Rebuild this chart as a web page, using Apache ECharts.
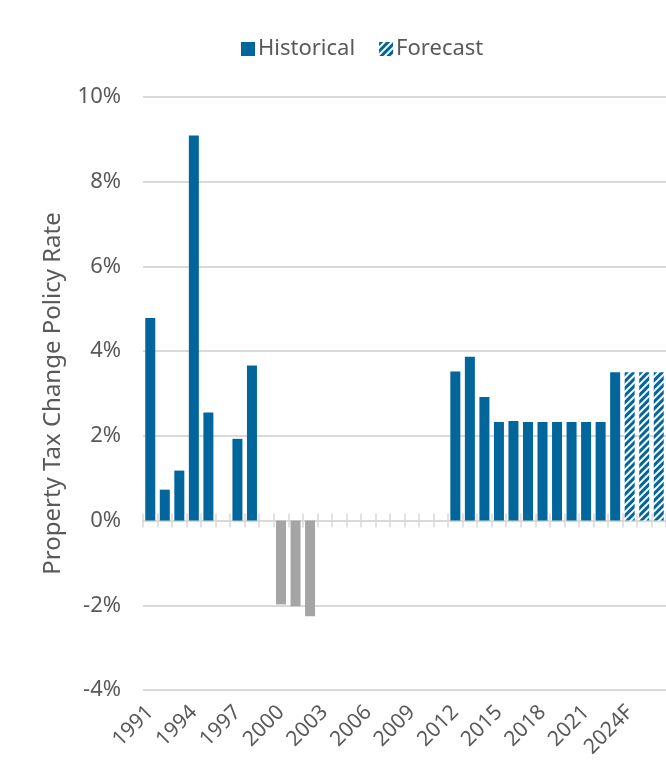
<!DOCTYPE html>
<html>
<head>
<meta charset="utf-8">
<script src="https://cdn.jsdelivr.net/npm/echarts@6/dist/echarts.min.js"></script>
<style>
html,body{margin:0;padding:0;background:#fff;}
#chart{width:666px;height:763px;}
</style>
</head>
<body>
<div id="chart"></div>
<script>
const categories = ['1991','1992','1993','1994','1995','1996','1997','1998','1999','2000','2001','2002','2003','2004','2005','2006','2007','2008','2009','2010','2011','2012','2013','2014','2015','2016','2017','2018','2019','2020','2021','2022','2023','2024F','2025F','2026F'];
const historical = [4.78,0.73,1.18,9.09,2.55,null,1.93,3.66,null,-1.98,-2.02,-2.26,null,null,null,null,null,null,null,null,null,3.52,3.87,2.92,2.33,2.35,2.33,2.33,2.33,2.33,2.33,2.33,3.50,null,null,null];
const forecast = [null,null,null,null,null,null,null,null,null,null,null,null,null,null,null,null,null,null,null,null,null,null,null,null,null,null,null,null,null,null,null,null,null,3.50,3.50,3.50];
const yTicks = {min:-4, max:10, interval:2};

const BLUE = '#00669b';
const GRAY = '#a5a5a5';
const TXT = '#595959';
const FONT = 'Noto Sans';

const chart = echarts.init(document.getElementById('chart'), null, {renderer:'canvas'});
const histData = historical.map(v => v == null ? null : {value:v, itemStyle:{color: v < 0 ? GRAY : BLUE}});

chart.setOption({
  animation:false,
  textStyle:{fontFamily:FONT},
  legend:{
    left:236, top:33,
    itemWidth:14, itemHeight:14, itemGap:24,
    textStyle:{color:TXT, fontSize:22, fontFamily:FONT, padding:[0,0,0,-2]},
    data:[{name:'Historical', icon:'rect'},{name:'Forecast', icon:'rect'}]
  },
  grid:{left:143, right:-7, top:97, bottom:73, containLabel:false},
  xAxis:[
    {type:'category', data:categories, position:'bottom',
     axisLine:{show:true, onZero:true, lineStyle:{color:'#d9d9d9', width:2}},
     axisTick:{show:true, interval:0, inside:false, length:7, lineStyle:{color:'#d9d9d9', width:1.5}},
     axisLabel:{show:false}, splitLine:{show:false}},
    {type:'category', data:categories, position:'bottom',
     axisLine:{show:false, onZero:true, onZeroAxisIndex:0},
     axisTick:{show:true, interval:0, inside:true, length:7, lineStyle:{color:'#d9d9d9', width:1.5}},
     axisLabel:{show:false}, splitLine:{show:false}},
    {type:'category', data:categories, position:'bottom',
     axisLine:{show:false, onZero:false},
     axisTick:{show:false},
     axisLabel:{show:true, interval:2, rotate:45, margin:19, color:TXT, fontSize:21, fontFamily:FONT},
     splitLine:{show:false}}
  ],
  yAxis:{
    type:'value', min:yTicks.min, max:yTicks.max, interval:yTicks.interval,
    name:'Property Tax Change Policy Rate', nameLocation:'middle', nameGap:78,
    nameTextStyle:{color:TXT, fontSize:24, fontFamily:FONT},
    axisLine:{show:false}, axisTick:{show:false},
    axisLabel:{formatter:'{value}%', color:TXT, fontSize:22, margin:22, fontFamily:FONT},
    splitLine:{lineStyle:{color:'#d9d9d9', width:2}}
  },
  series:[
    {name:'Historical', type:'bar', xAxisIndex:0, data:histData, barWidth:10, barGap:'-100%',
     itemStyle:{color:BLUE}},
    {name:'Forecast', type:'bar', xAxisIndex:0, data:forecast, barWidth:10, barGap:'-100%',
     itemStyle:{color:'#ffffff',
       decal:{symbol:'rect', symbolSize:1, color:BLUE, backgroundColor:'#ffffff',
              dashArrayX:[[1,0]], dashArrayY:[2.2,1.2], rotation:-Math.PI/4}}}
  ]
});
</script>
</body>
</html>
